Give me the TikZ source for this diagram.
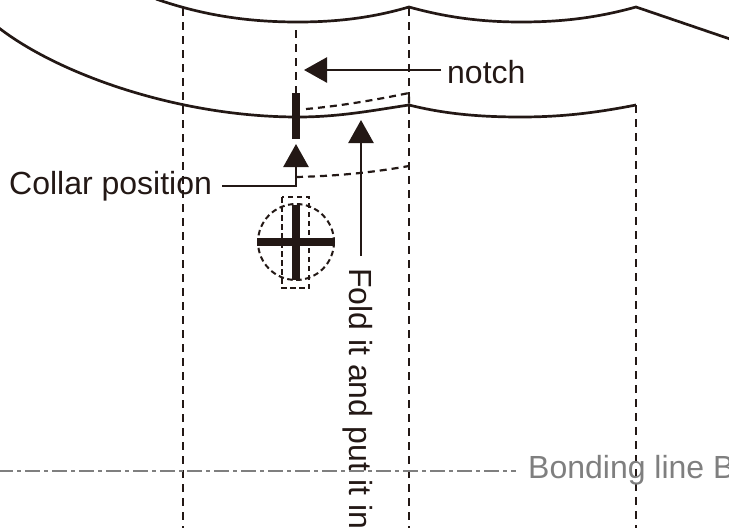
\documentclass[tikz,border=0pt]{standalone}
\usepackage{fontspec}
\setmainfont{Liberation Sans}
\usetikzlibrary{arrows.meta}
\definecolor{ink}{HTML}{231815}
\definecolor{graytxt}{HTML}{7F7F7F}
\tikzset{
  curve/.style={ink,line width=2.7pt},
  dashv/.style={ink,line width=2.5pt,dash pattern=on 8pt off 6pt},
  dashs/.style={ink,line width=2.2pt,dash pattern=on 7pt off 5pt},
  dasht/.style={ink,line width=2pt,dash pattern=on 5.5pt off 3.5pt},
  bar/.style={ink,line width=8pt},
  lead/.style={ink,line width=2.6pt},
  tip/.style={-{Triangle[length=23pt,width=25pt]}},
  lab/.style={inner sep=0pt,text=ink,font=\fontsize{32}{32}\selectfont},
}
\begin{document}
\begin{tikzpicture}[x=1pt,y=-1pt]
\useasboundingbox (0,0) rectangle (729,528);
\clip (0,0) rectangle (729,528);
\coordinate (nl) at (409,7);
\coordinate (nr) at (636,7);
\coordinate (ml) at (409,105);
\coordinate (mr) at (636,105);
% vertical fold lines
\draw[dashv] (183,8) -- (183,528);
\draw[dashv] (ml |- 0,8) -- (409,528);
\draw[dashv] (mr) -- (636,528);
\draw[dashv] (296,30) -- (296,93);
% outlines
\draw[curve] (156,-1) .. controls (205,16) and (250,22) .. (298,22) .. controls (340,22) and (375,17) .. (nl)
  .. controls (445,17) and (480,22) .. (521,22) .. controls (565,22) and (600,17) .. (nr) -- (730,39);
\draw[curve] (-1,28) .. controls (60,75) and (180,117) .. (298,117) .. controls (340,117) and (375,110) .. (409,105)
  .. controls (445,114) and (480,117) .. (521,117) .. controls (565,117) and (600,112) .. (mr);
% fold lines
\draw[dashs] (306,109) .. controls (340,106) and (375,100) .. (409,93) -- (409,105);
\draw[dashs] (296,177) .. controls (340,176) and (375,172) .. (409,166);
% centre mark
\draw[bar] (296,93) -- (296,139);
\draw[dasht] (296,242) circle (38);
\draw[dasht] (282,197) rectangle (309,288);
\draw[bar] (257,242) -- (335,242);
\draw[bar] (296,205) -- (296,280);
% labels and leaders
\node[lab,anchor=west] (notch) at (447,72) {notch};
\node[lab,anchor=west] (collar) at (9,186) {Collar position};
\coordinate (notchtip) at (304,70);
\coordinate (collartip) at (296,144);
\coordinate (foldtip) at (361,120);
\node[lab,rotate=-90,anchor=west] (fold) at (358,268) {Fold it and put it in};
\draw[lead,tip] (notch.west |- notchtip) ++(-6,0) -- (notchtip);
\draw[lead,tip] (222,186) -- (296,186) -- (collartip);
\draw[lead,tip] (361,256) -- (foldtip);
% bonding line
\coordinate (bs) at (-2,471);
\node[lab,text=graytxt,anchor=west] (bond) at (528,470) {Bonding line B};
\draw[graytxt,line width=2pt,dash pattern=on 15pt off 4pt on 4pt off 4pt] (bs) -- (516,471);
\end{tikzpicture}
\end{document}
